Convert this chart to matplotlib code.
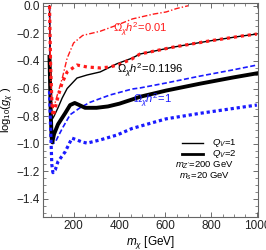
import matplotlib
matplotlib.use('Agg')
import matplotlib.pyplot as plt
from matplotlib.ticker import MultipleLocator

plt.rcParams['font.family'] = ['Liberation Sans', 'DejaVu Sans']
plt.rcParams['mathtext.fontset'] = 'custom'
plt.rcParams['mathtext.rm'] = 'Liberation Sans'
plt.rcParams['mathtext.it'] = 'Liberation Sans:italic'
plt.rcParams['axes.unicode_minus'] = True

# Q_V=1, Omega h^2 = 0.01 (red dot-dashed)
x_r1 = [95, 99, 104, 110, 120, 132, 150, 172, 200, 240, 316, 390, 458, 550, 604, 650, 700]
y_r1 = [0.0, -0.4, -0.68, -0.74, -0.7, -0.63, -0.53, -0.38, -0.27, -0.215, -0.185, -0.14, -0.095, -0.06, -0.045, -0.02, 0.0]

# Q_V=2, Omega h^2 = 0.01 (red thick dotted)
x_r2 = [95, 100, 106, 111, 132, 150, 172, 215, 259, 316, 359, 400, 455, 490, 635, 790, 932, 1000]
y_r2 = [0.0, -0.45, -0.72, -0.8, -0.66, -0.56, -0.48, -0.43, -0.444, -0.451, -0.444, -0.425, -0.385, -0.35, -0.3, -0.256, -0.22, -0.205]

# Q_V=1, Omega h^2 = 0.1196 (black thin)
x_k1 = [95, 99, 104, 108, 115, 132, 150, 172, 215, 259, 316, 390, 455, 490, 635, 790, 932, 1000]
y_k1 = [0.0, -0.5, -0.78, -0.82, -0.8, -0.74, -0.67, -0.6, -0.524, -0.502, -0.48, -0.42, -0.38, -0.35, -0.3, -0.256, -0.22, -0.205]

# Q_V=2, Omega h^2 = 0.1196 (black thick)
x_k2 = [95, 100, 104, 107, 115, 132, 163, 185, 205, 225, 250, 300, 350, 400, 455, 490, 604, 752, 896, 1000]
y_k2 = [-0.37, -0.75, -0.95, -0.99, -0.93, -0.86, -0.78, -0.72, -0.705, -0.72, -0.74, -0.74, -0.73, -0.71, -0.68, -0.66, -0.615, -0.565, -0.52, -0.49]

# Q_V=1, Omega h^2 = 1 (blue dashed)
x_b1 = [95, 99, 104, 110, 120, 135, 154, 185, 228, 272, 359, 455, 490, 604, 752, 896, 1000]
y_b1 = [0.0, -0.6, -0.95, -1.0, -0.99, -0.94, -0.88, -0.79, -0.74, -0.7, -0.647, -0.604, -0.596, -0.56, -0.51, -0.465, -0.43]

# Q_V=2, Omega h^2 = 1 (blue thick dotted)
x_b2 = [95, 100, 105, 110, 120, 132, 163, 193, 215, 237, 259, 316, 390, 455, 604, 752, 896, 1000]
y_b2 = [-0.62, -0.9, -1.15, -1.21, -1.19, -1.13, -1.06, -0.96, -0.973, -0.988, -0.996, -0.973, -0.937, -0.89, -0.82, -0.78, -0.745, -0.72]

fig = plt.figure(figsize=(2.66, 2.5), dpi=100)
ax = fig.add_axes([0.162, 0.133, 0.808, 0.855])

ax.plot(x_b1, y_b1, color='#1a1aff', lw=1.2, ls=(0, (3, 1.5)))
ax.plot(x_k1, y_k1, color='black', lw=1.0)
ax.plot(x_k2, y_k2, color='black', lw=2.8)
ax.plot(x_b2, y_b2, color='#1a1aff', lw=2.3, ls=(0, (1, 0.9)))
ax.plot(x_r1, y_r1, color='#ff1a1a', lw=1.0, ls=(0, (4, 1.5, 1, 1.5)))
ax.plot(x_r2, y_r2, color='#ff1a1a', lw=2.3, ls=(0, (1, 1.2)))

ax.text(492, -0.175, r'$\Omega_\chi h^2$=0.01', color='#ff1a1a', fontsize=8, ha='center', va='center')
ax.text(535, -0.47, r'$\Omega_\chi h^2$=0.1196', color='black', fontsize=8, ha='center', va='center')
ax.text(545, -0.69, r'$\Omega_\chi h^2$=1', color='#1a1aff', fontsize=8, ha='center', va='center')

# legend block
ax.plot([673, 765], [-0.995, -0.995], color='black', lw=1.0)
ax.plot([673, 765], [-1.075, -1.075], color='black', lw=2.0)
ax.text(805, -0.995, r'$Q_V$=1', fontsize=6.8, va='center', ha='left')
ax.text(805, -1.075, r'$Q_V$=2', fontsize=6.8, va='center', ha='left')
ax.text(772, -1.154, r"$m_{Z'}$=200 GeV", fontsize=6.8, va='center', ha='center')
ax.text(770, -1.234, r'$m_s$=20 GeV', fontsize=6.8, va='center', ha='center')

ax.set_xlim(67, 1005)
ax.set_ylim(-1.53, 0.02)
ax.xaxis.set_major_locator(MultipleLocator(200))
ax.xaxis.set_minor_locator(MultipleLocator(50))
ax.yaxis.set_major_locator(MultipleLocator(0.2))
ax.yaxis.set_minor_locator(MultipleLocator(0.05))
ax.yaxis.set_major_formatter(plt.FuncFormatter(lambda v, p: ('%.1f' % v).replace('-', '\u2212') if abs(v) > 1e-9 else '0.0'))
ax.tick_params(which='both', direction='in', top=True, right=True, colors='#555555', labelcolor='#222222', labelsize=8.5)
ax.tick_params(which='major', length=3.5, width=0.6, pad=2.5)
ax.tick_params(which='minor', length=2, width=0.5)
for s in ax.spines.values():
    s.set_color('#666666')
    s.set_linewidth(0.8)

ax.set_xlabel(r'$m_\chi$ [GeV]', fontsize=8.5, labelpad=1)
ax.set_ylabel(r'log$_{10}$($g_\chi$ )', fontsize=8)
ax.yaxis.set_label_coords(-0.128, 0.5)

fig.savefig('out.png', dpi=100)
